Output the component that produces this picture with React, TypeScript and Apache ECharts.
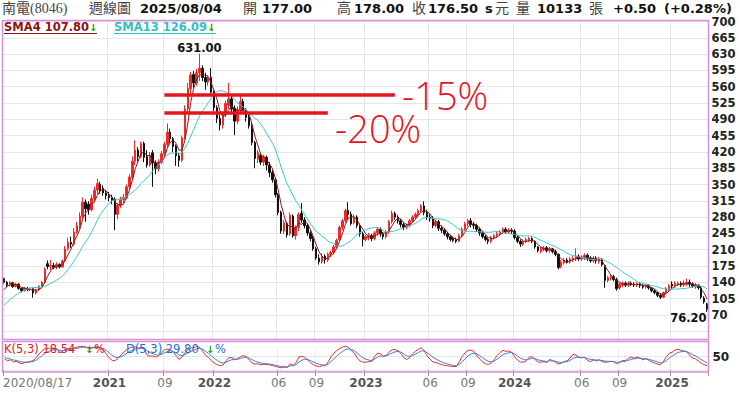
import React, { useEffect, useRef } from 'react';
import * as echarts from 'echarts';

// Weekly candles of 南電(8046), [open, close, low, high], first week 2020/08/17
const weeklyOHLC: number[][] = [
  [148,140,137,150],[140,134,130,143],[134,139,131,142],[139,131,128,141],[131,136,129,139],
  [136,127,124,138],[127,122,118,129],[122,127,120,130],[127,124,121,130],[124,126,121,129],
  [126,117,107,128],[117,124,114,126],[124,131,122,134],[131,140,129,143],[140,168,138,172],
  [180,174,168,187],[174,176,166,188],[176,172,168,182],[172,178,168,183],[178,173,170,181],
  [173,186,172,189],[186,212,184,218],[212,226,208,236],[226,222,214,238],[222,248,218,256],
  [248,262,244,270],[262,282,255,290],[282,312,278,322],[312,298,270,318],[308,296,285,314],
  [296,320,292,328],[320,338,312,345],[338,352,330,362],[350,336,330,356],[342,332,326,348],
  [332,326,318,338],[326,322,314,334],[322,316,308,328],[318,286,252,322],[286,305,276,310],
  [305,318,300,324],[318,322,310,330],[322,345,318,350],[345,366,340,372],[366,400,362,410],
  [400,424,392,445],[424,410,400,430],[410,438,406,442],[438,408,398,442],[410,392,386,424],
  [392,412,388,420],[418,396,345,424],[396,384,372,402],[384,398,378,404],[398,416,394,422],
  [416,436,410,442],[436,462,430,481],[462,448,440,470],[448,432,420,452],[432,412,390,436],
  [412,402,388,418],[402,450,398,455],[450,512,446,520],[512,556,505,568],[556,585,545,592],
  [586,568,558,594],[568,590,562,598],[590,600,572,631],[600,580,572,606],[580,570,553,590],
  [570,578,562,584],[580,548,540,600],[548,515,508,552],[515,492,482,520],[492,478,466,500],
  [478,500,470,506],[500,524,495,530],[520,534,512,568],[534,512,504,540],[514,486,456,520],
  [486,510,480,518],[510,528,505,545],[528,510,502,534],[510,494,485,514],[494,476,470,500],
  [476,440,434,484],[440,406,385,444],[404,418,396,424],[412,398,392,416],[398,410,390,414],
  [408,392,380,412],[392,376,366,398],[376,360,354,382],[360,328,322,364],[328,290,284,332],
  [290,250,244,294],[250,268,244,274],[266,242,236,270],[244,284,240,290],[282,240,236,286],
  [240,258,232,262],[258,286,250,290],[288,274,268,310],[274,262,256,280],[262,246,240,266],
  [246,234,228,252],[234,212,208,240],[212,192,188,216],[192,184,178,200],[184,196,180,202],
  [196,188,180,200],[188,200,184,204],[200,204,194,208],[204,216,200,220],[216,230,212,234],
  [232,258,228,262],[258,272,252,276],[272,294,268,298],[294,286,276,312],[286,266,262,292],
  [268,280,264,286],[280,262,256,284],[262,244,238,266],[244,232,217,248],[232,238,228,242],
  [236,240,230,246],[240,234,228,244],[234,246,230,250],[246,254,240,258],[254,244,238,258],
  [244,238,232,248],[238,248,234,252],[248,270,244,274],[270,288,266,294],[288,280,274,292],
  [280,272,266,284],[272,264,258,276],[264,258,252,268],[258,262,254,266],[262,272,258,276],
  [272,280,268,284],[280,286,276,290],[286,294,282,298],[294,304,290,308],[304,290,284,314],
  [290,280,274,296],[280,276,270,286],[278,262,256,282],[262,270,258,274],[270,256,250,274],
  [256,252,246,262],[252,244,240,256],[244,238,232,248],[238,232,228,242],[234,230,226,238],
  [232,228,224,236],[228,240,226,244],[240,254,236,258],[254,266,250,270],[266,272,260,276],
  [272,264,258,278],[264,262,254,270],[262,254,248,266],[254,246,240,258],[246,238,234,250],
  [238,232,228,242],[232,228,222,236],[228,236,224,240],[236,240,232,244],[240,244,236,248],
  [244,248,240,252],[248,254,244,258],[254,248,244,258],[248,252,244,256],[252,250,244,256],
  [250,236,232,254],[236,228,224,240],[228,222,216,232],[222,228,218,232],[228,232,224,236],
  [230,234,226,238],[234,228,224,237],[228,216,212,230],[216,208,204,218],[206,212,202,216],
  [210,214,206,218],[214,208,204,218],[208,212,204,216],[212,206,202,214],[206,200,196,210],
  [200,172,168,202],[174,184,170,188],[182,188,178,192],[188,184,180,192],[184,190,180,194],
  [188,192,184,196],[190,196,186,213],[196,190,186,200],[190,194,186,198],[192,198,188,202],
  [198,190,186,202],[192,186,182,196],[186,192,182,196],[192,186,180,196],[184,190,180,194],
  [190,178,174,192],[176,144,128,178],[144,150,140,154],[148,152,144,156],[152,146,142,156],
  [146,126,122,150],[128,136,124,140],[134,138,130,142],[138,134,130,142],[134,138,130,142],
  [138,135,132,142],[136,134,130,140],[134,137,130,140],[137,133,128,140],[133,130,126,136],
  [130,133,126,136],[133,128,124,136],[128,122,118,130],[122,118,114,126],[118,112,108,120],
  [112,108,104,116],[108,118,106,120],[118,126,114,130],[124,132,120,136],[136,132,126,142],
  [132,138,128,142],[136,138,132,142],[138,134,130,142],[134,138,130,144],[136,140,132,148],
  [140,136,130,146],[136,132,128,140],[130,134,126,138],[134,128,124,136],[128,108,104,132],
  [106,98,94,110],[94,82,76.2,96],
];

// Weekly closes before the first drawn week (only feed the moving averages)
const priorCloses: number[] = [60, 64, 66, 70, 75, 80, 84, 90, 98, 108, 120, 128];

const categories: string[] = weeklyOHLC.map((_, i) => String(i));

// [category index, label]
const timeTicks: [number, string][] = [
  [0, '2020/08/17'], [36, '2021'], [55, '09'], [72, '2022'], [94, '06'], [107, '09'],
  [124, '2023'], [146, '06'], [159, '09'], [175, '2024'], [198, '06'], [211, '09'], [229, '2025'],
];

const peakPoint = { index: 67, value: 631, label: '631.00' };
const lowPoint = { index: 241, value: 76.2, label: '76.20' };

// horizontal reference lines: [label, price, from index, to index]
const refLines: [string, number, number, number][] = [
  ['-15%', 543, 55, 134],
  ['-20%', 504, 55, 111],
];

const headerItems: [string, number, boolean][] = [
  ['南電(8046)', 2, false], ['週線圖', 89, false], ['2025/08/04', 140, true],
  ['開', 243, false], ['177.00', 262, true], ['高', 337, false], ['178.00', 354, true],
  ['收', 412, false], ['176.50', 428, true], ['s', 485, true], ['元', 495, false],
  ['量', 516, false], ['10133', 537, true], ['張', 589, false], ['+0.50', 613, true],
  ['(+0.28%)', 664, true],
];

const legendValues = { sma4: '107.80', sma13: '126.09', k: '18.54', d: '29.80' };

function sma(n: number): (number | null)[] {
  const all = priorCloses.concat(weeklyOHLC.map((r) => r[1]));
  const off = priorCloses.length;
  return weeklyOHLC.map((_, i) => {
    const end = i + off;
    if (end - n + 1 < 0) return null;
    let s = 0;
    for (let j = end - n + 1; j <= end; j++) s += all[j];
    return +(s / n).toFixed(2);
  });
}

function kdSeries(): { k: number[]; d: number[] } {
  let k = 50, d = 50;
  const K: number[] = [], D: number[] = [];
  weeklyOHLC.forEach((r, i) => {
    let lo = Infinity, hi = -Infinity;
    for (let j = Math.max(0, i - 4); j <= i; j++) {
      lo = Math.min(lo, weeklyOHLC[j][2]);
      hi = Math.max(hi, weeklyOHLC[j][3]);
    }
    const rsv = hi === lo ? 50 : ((r[1] - lo) / (hi - lo)) * 100;
    k = (k * 2) / 3 + rsv / 3;
    d = (d * 2) / 3 + k / 3;
    K.push(+k.toFixed(2));
    D.push(+d.toFixed(2));
  });
  return { k: K, d: D };
}

export default function App() {
  const ref = useRef<HTMLDivElement>(null);
  useEffect(() => {
    if (!ref.current) return;
    const chart = echarts.init(ref.current, undefined, { renderer: 'svg' });
    const tickSet = new Set(timeTicks.map((t) => t[0]));
    const tickLabel = new Map(timeTicks);
    const kd = kdSeries();
    const numFont = 'DejaVu Sans';
    const cjkFont = '"Liberation Serif", "Noto Sans CJK TC", serif';

    const graphics: any[] = [];
    // header
    headerItems.forEach(([t, x, bold]) => {
      graphics.push({
        type: 'text', x, y: 8, z: 20,
        style: {
          text: t, fill: bold ? '#111' : '#444',
          font: bold ? `bold 13px ${numFont}` : `14px ${cjkFont}`,
          verticalAlign: 'middle',
        },
      });
    });
    // cover main grid's zero line inside the KD panel
    graphics.push({ type: 'rect', z: 1, shape: { x: 3, y: 340, width: 705, height: 9 }, style: { fill: '#fff' } });
    // panel borders
    graphics.push({ type: 'rect', z: 30, shape: { x: 2.5, y: 20.5, width: 706, height: 319 }, style: { fill: 'none', stroke: '#d88fd8', lineWidth: 1.5 } });
    graphics.push({ type: 'rect', z: 30, shape: { x: 2.5, y: 341.5, width: 706, height: 30.5 }, style: { fill: 'none', stroke: '#d88fd8', lineWidth: 1.5 } });
    // legends
    const legend = (x: number, y: number, txt: string, color: string, arrowX: number, endX: number, weight: string, underline: boolean, pct: boolean) => {
      graphics.push({ type: 'text', x, y, z: 20, style: { text: txt, fill: color, font: `${weight} 11.5px ${numFont}`, verticalAlign: 'middle' } });
      graphics.push({ type: 'text', x: arrowX, y, z: 20, style: { text: '↓', fill: '#12a012', font: `bold 10px ${numFont}`, verticalAlign: 'middle' } });
      if (pct) graphics.push({ type: 'text', x: arrowX + 9, y, z: 20, style: { text: '%', fill: color, font: `11.5px ${numFont}`, verticalAlign: 'middle' } });
      if (underline) graphics.push({ type: 'line', z: 20, shape: { x1: x, y1: y + 6.5, x2: endX, y2: y + 6.5 }, style: { stroke: color, lineWidth: 1 } });
    };
    legend(4, 27, `SMA4 ${legendValues.sma4}`, '#8b1414', 89, 97, 'bold', true, false);
    legend(114, 27, `SMA13 ${legendValues.sma13}`, '#33c0c0', 207, 216, 'bold', true, false);
    legend(4, 349, `K(5,3) ${legendValues.k}`, '#e02020', 85, 0, 'normal', false, true);
    legend(126, 349, `D(5,3) ${legendValues.d}`, '#1a6fd0', 206, 0, 'normal', false, true);

    const option: any = {
      animation: false,
      backgroundColor: '#fff',
      grid: [
        { left: 2.5, right: 31.5, top: 21.5, height: 326 },
        { left: 2.5, right: 31.5, top: 343, height: 27 },
      ],
      xAxis: [
        {
          type: 'category', gridIndex: 0, data: categories, boundaryGap: true,
          axisLine: { show: false }, axisTick: { show: false }, axisLabel: { show: false },
          splitLine: { show: true, interval: (i: number) => tickSet.has(i) && i > 0, lineStyle: { color: '#e6e6e6' } },
        },
        {
          type: 'category', gridIndex: 1, data: categories, boundaryGap: true,
          axisLine: { show: false },
          axisTick: { show: true, interval: (i: number) => tickSet.has(i), length: 6, lineStyle: { color: '#999' } },
          splitLine: { show: true, interval: (i: number) => tickSet.has(i) && i > 0, lineStyle: { color: '#ececec' } },
          axisLabel: {
            show: true, interval: (i: number) => tickSet.has(i), margin: 7,
            color: '#777', fontSize: 12, fontFamily: numFont,
            formatter: (v: string) => {
              const i = Number(v);
              const t = tickLabel.get(i) || '';
              if (i === 0) return `{f|${t}}`;
              if (t.length === 4) return `{y|${t}}`;
              return t;
            },
            rich: {
              f: { color: '#777', fontSize: 12, fontFamily: numFont, padding: [0, 0, 0, 66] },
              y: { color: '#555', fontSize: 12, fontWeight: 'bold', fontFamily: numFont },
            },
          },
        },
      ],
      yAxis: [
        {
          type: 'value', gridIndex: 0, position: 'right', min: 0, max: 700, interval: 35,
          axisLine: { show: false }, axisTick: { show: false },
          splitLine: { show: true, lineStyle: { color: '#e6e6e6' } },
          axisLabel: {
            margin: 3, color: '#222', fontWeight: 'bold', fontSize: 11.5, fontFamily: numFont,
            formatter: (v: number) => (v >= 70 ? String(v) : ''),
          },
        },
        {
          type: 'value', gridIndex: 1, position: 'right', min: 0, max: 100, interval: 50,
          axisLine: { show: false }, axisTick: { show: false },
          splitLine: { show: true, lineStyle: { color: '#e6e6e6' } },
          axisLabel: {
            margin: 4, color: '#222', fontWeight: 'bold', fontSize: 12, fontFamily: numFont,
            formatter: (v: number) => (v === 50 ? '50' : ''),
          },
        },
      ],
      series: [
        {
          type: 'candlestick', xAxisIndex: 0, yAxisIndex: 0, barWidth: 2,
          data: weeklyOHLC.map((r) => [r[0], r[1], r[2], r[3]]),
          itemStyle: { color: '#f02828', color0: '#111', borderColor: '#f02828', borderColor0: '#111', borderWidth: 1 },
          markLine: {
            silent: true, symbol: ['none', 'none'],
            label: { show: false },
            lineStyle: { color: '#e3161e', width: 3.5, type: 'solid' },
            data: refLines.map(([, v, a, b]) => [
              { coord: [categories[a], v] },
              { coord: [categories[b], v] },
            ]),
          },
          markPoint: {
            symbol: 'circle', symbolSize: 1, itemStyle: { color: 'rgba(0,0,0,0)' },
            label: { show: true, color: '#111', fontWeight: 'bold', fontSize: 11.5, fontFamily: numFont },
            data: [
              { coord: [categories[peakPoint.index], peakPoint.value], label: { formatter: peakPoint.label, position: 'top', distance: 1, offset: [0, 2] } },
              { coord: [categories[lowPoint.index], lowPoint.value], label: { formatter: lowPoint.label, position: 'left', distance: 0, offset: [0, 6] } },
            ],
          },
        },
        {
          type: 'line', xAxisIndex: 0, yAxisIndex: 0, data: sma(4), showSymbol: false, symbol: 'none',
          lineStyle: { color: '#8b1a1a', width: 1 }, z: 3,
        },
        {
          type: 'line', xAxisIndex: 0, yAxisIndex: 0, data: sma(13), showSymbol: false, symbol: 'none',
          lineStyle: { color: '#3cc8c8', width: 1 }, z: 3,
        },
        {
          type: 'line', xAxisIndex: 1, yAxisIndex: 1, data: kd.k, showSymbol: false, symbol: 'none',
          lineStyle: { color: '#e83030', width: 1 }, z: 3,
        },
        {
          type: 'line', xAxisIndex: 1, yAxisIndex: 1, data: kd.d, showSymbol: false, symbol: 'none',
          lineStyle: { color: '#3a80d8', width: 1 }, z: 3,
        },
      ],
      graphic: [
        ...graphics,
        ...refLines.map(([t], idx) => ({
          type: 'text', z: 20,
          x: idx === 0 ? 402 : 335, y: idx === 0 ? 95 : 128,
          style: { text: t, fill: '#e3161e', font: '300 38px "Open Sans"', verticalAlign: 'middle' },
        })),
      ],
    };
    chart.setOption(option);
    return () => chart.dispose();
  }, []);
  return (
    <div
      ref={ref}
      style={{ position: 'fixed', left: 0, top: 0, width: 740, height: 394, background: '#fff' }}
    />
  );
}
